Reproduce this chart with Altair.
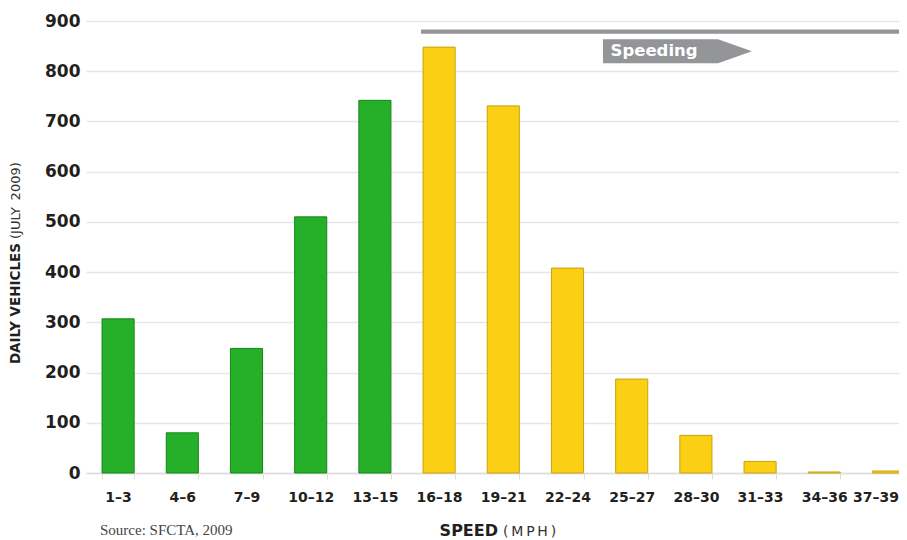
import altair as alt
import pandas as pd

categories = ["1–3", "4–6", "7–9", "10–12", "13–15", "16–18", "19–21",
              "22–24", "25–27", "28–30", "31–33", "34–36", "37–39"]
vehicles = [307, 80, 248, 510, 742, 848, 731, 408, 187, 75, 23, 2, 4]
groups = ["Under limit"] * 5 + ["Speeding"] * 8
y_ticks = [0, 100, 200, 300, 400, 500, 600, 700, 800, 900]

df = pd.DataFrame({"speed": categories, "vehicles": vehicles, "group": groups})

W, H = 813, 452
STEP = 64.2
GREEN, YELLOW = "#26b02a", "#fbcf14"
GREEN_S, YELLOW_S = "#17861b", "#c8a30a"
GRAY = "#939598"
DARK = "#231f20"

xscale = alt.Scale(domain=categories, range=[0, STEP * len(categories)],
                   paddingInner=0.5, paddingOuter=0.25)
yscale = alt.Scale(domain=[0, 900], nice=False)

bars = alt.Chart(df).mark_bar(strokeWidth=1).encode(
    x=alt.X("speed:N", scale=xscale, sort=categories,
            axis=alt.Axis(title=None, labelAngle=0, tickBand="extent",
                          labelFont="DejaVu Sans", labelFontWeight="bold",
                          labelFontSize=14, labelColor=DARK, labelPadding=11,
                          labelOffset=alt.ExprRef("datum.value == '37–39' ? -13 : 0"),
                          tickSize=6, tickColor="#dddddd", domainColor="#dddddd",
                          domainWidth=1.5, grid=False)),
    y=alt.Y("vehicles:Q", scale=yscale,
            axis=alt.Axis(title=None, values=y_ticks, domain=False, ticks=False,
                          labelFont="DejaVu Sans", labelFontWeight="bold",
                          labelFontSize=17, labelColor=DARK, labelPadding=6,
                          grid=True, gridColor="#e6e6e6", gridWidth=1.5)),
    fill=alt.Fill("group:N", scale=alt.Scale(domain=["Under limit", "Speeding"],
                                             range=[GREEN, YELLOW]), legend=None),
    stroke=alt.Stroke("group:N", scale=alt.Scale(domain=["Under limit", "Speeding"],
                                                 range=[GREEN_S, YELLOW_S]), legend=None),
)

# Speeding range line
line_df = pd.DataFrame({"speed": ["16–18"], "y": [879]})
rule = alt.Chart(line_df).mark_rule(color=GRAY, strokeWidth=4.3, xOffset=-2).encode(
    x=alt.X("speed:N", scale=xscale, bandPosition=0),
    x2=alt.value(W + 40),
    y=alt.Y("y:Q", scale=yscale),
)

# Speeding arrow label
arrow_df = pd.DataFrame({"speed": ["22–24"], "y": [840], "label": ["Speeding"]})
arrow_path = "M-1,-0.161L0.544,-0.161L1,0L0.544,0.161L-1,0.161Z"
arrow = alt.Chart(arrow_df).mark_point(
    shape=arrow_path, size=22201, filled=True, fill=GRAY,
    opacity=1, xOffset=110,
).encode(
    x=alt.X("speed:N", scale=xscale),
    y=alt.Y("y:Q", scale=yscale),
)
arrow_text = alt.Chart(arrow_df).mark_text(
    align="left", baseline="middle", dx=43, font="DejaVu Sans",
    fontWeight="bold", fontSize=16.5, color="white",
).encode(
    x=alt.X("speed:N", scale=xscale),
    y=alt.Y("y:Q", scale=yscale),
    text="label:N",
)

# Titles and source
def txt(text, x, y, **kw):
    return alt.Chart(pd.DataFrame({"t": [text]})).mark_text(**kw).encode(
        x=alt.value(x), y=alt.value(y), text="t:N")

ytitle_b = txt("DAILY VEHICLES", -70, 222, angle=270, align="right", baseline="middle",
               font="DejaVu Sans", fontWeight="bold", fontSize=13.5, color=DARK)
ytitle_n = txt("(JULY\u2009 2009)", -70, 218, angle=270, align="left", baseline="middle",
               font="DejaVu Sans", fontSize=13, color="#333333")
xtitle_b = txt("SPEED", 412, 510, align="right", baseline="middle",
               font="DejaVu Sans", fontWeight="bold", fontSize=16, color=DARK)
xtitle_n = txt("(\u2009M\u2009P\u2009H\u2009)", 417, 511, align="left", baseline="middle",
               font="DejaVu Sans", fontSize=14, color="#333333")
source = txt("Source: SFCTA, 2009", 14, 509, align="left", baseline="middle",
             font="Liberation Serif", fontSize=15, color="#444444")

chart = alt.layer(bars, rule, arrow, arrow_text, ytitle_b, ytitle_n,
                  xtitle_b, xtitle_n, source).properties(
    width=W, height=H,
    autosize=alt.AutoSizeParams(type="none"),
    padding={"left": 78, "top": 13, "right": 0, "bottom": 67},
    background="white",
).configure_view(stroke=None)

chart.save("out.html", embed_options={"renderer": "svg", "actions": False})
